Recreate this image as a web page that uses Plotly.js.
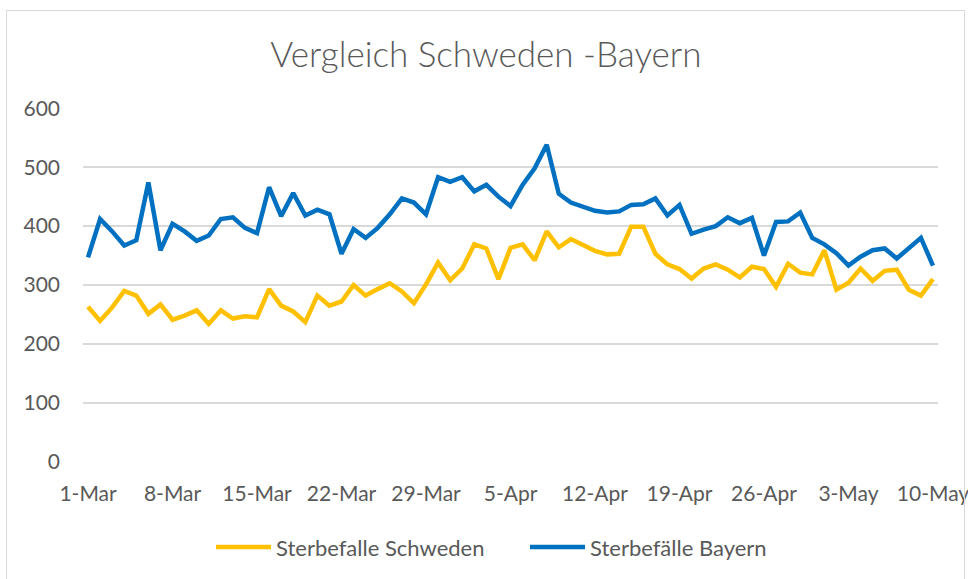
<!DOCTYPE html>
<html>
<head>
<meta charset="utf-8">
<script src="https://cdn.plot.ly/plotly-3.0.1.min.js"></script>
<style>
  html, body { margin: 0; padding: 0; background: #ffffff; }
  #wrap { position: relative; width: 968px; height: 579px; }
  #chart { position: absolute; left: 0; top: 0; width: 968px; height: 579px; }
  #frame { position: absolute; left: 6px; top: 10px; width: 959px; height: 580px;
           border: 1px solid #d9d9d9; pointer-events: none; box-sizing: border-box; }
</style>
</head>
<body>
<div id="wrap">
  <div id="chart"></div>
  <div id="frame"></div>
</div>
<script>
// Daily dates 1-Mar .. 10-May (2020)
const startDate = '2020-03-01';
const dayCount = 71;

const sterbefaelleSchweden = [
  263, 239, 262, 290, 282, 251, 267, 241, 248, 257,
  234, 257, 243, 247, 245, 293, 265, 255, 237, 282,
  265, 272, 300, 282, 293, 303, 289, 269, 301, 338,
  308, 328, 369, 362, 310, 363, 369, 342, 391, 364,
  378, 367, 358, 352, 353, 399, 399, 353, 335, 327,
  311, 328, 335, 326, 313, 331, 327, 297, 336, 321,
  318, 359, 292, 304, 328, 307, 324, 326, 292, 282,
  310
];

const sterbefaelleBayern = [
  347, 412, 391, 367, 376, 474, 359, 404, 391, 375,
  384, 412, 415, 397, 388, 466, 417, 456, 418, 428,
  420, 353, 395, 380, 397, 420, 447, 440, 420, 483,
  475, 483, 459, 470, 450, 434, 470, 498, 538, 455,
  440, 432, 426, 423, 425, 436, 437, 447, 418, 436,
  387, 394, 400, 415, 405, 414, 350, 407, 408, 423,
  380, 369, 354, 333, 348, 359, 362, 345, 363, 380,
  333
];

const seriesNames = ['Sterbefalle Schweden', 'Sterbefälle Bayern'];
const seriesColors = ['#FFC000', '#0070C0'];
const yTickVals = [0, 100, 200, 300, 400, 500, 600];

function buildDates(start, n) {
  const out = [];
  const d0 = new Date(start + 'T00:00:00Z');
  for (let i = 0; i < n; i++) {
    const d = new Date(d0.getTime() + i * 86400000);
    out.push(d.toISOString().slice(0, 10));
  }
  return out;
}
const dates = buildDates(startDate, dayCount);

const font = 'Lato, "Open Sans", "Liberation Sans", sans-serif';
const grey = '#595959';

const traces = [
  { x: dates, y: sterbefaelleSchweden, name: seriesNames[0], type: 'scatter', mode: 'lines',
    line: { color: seriesColors[0], width: 4.5 } },
  { x: dates, y: sterbefaelleBayern, name: seriesNames[1], type: 'scatter', mode: 'lines',
    line: { color: seriesColors[1], width: 4.5 } }
];

const layout = {
  width: 968, height: 579,
  margin: { l: 83, r: 30, t: 108, b: 116 },
  paper_bgcolor: '#ffffff', plot_bgcolor: '#ffffff',
  font: { family: font, color: grey, size: 20 },
  title: { text: 'Vergleich Schweden -Bayern', font: { family: font, size: 35, color: grey, weight: 300 },
           x: 0.502, xanchor: 'center', y: 0.906, yanchor: 'middle' },
  xaxis: {
    type: 'date',
    range: ['2020-02-29 14:00', '2020-05-10 10:00'],
    tick0: '2020-03-01', dtick: 7 * 86400000,
    tickformat: '%-d-%b',
    showgrid: false, zeroline: false, showline: false,
    ticks: '', ticklabelstandoff: 17, ticklabeloverflow: 'allow',
    tickfont: { family: font, size: 21, color: grey },
    fixedrange: true
  },
  yaxis: {
    range: [-0.5, 600.5],
    tickvals: yTickVals,
    showgrid: true, gridcolor: '#d9d9d9', gridwidth: 1.5,
    zeroline: false, showline: false,
    ticks: '', ticklabelstandoff: 22,
    tickfont: { family: font, size: 21, color: grey },
    fixedrange: true
  },
  showlegend: true,
  legend: {
    orientation: 'h', x: 0.1497, xanchor: 'left', y: -0.237, yanchor: 'middle',
    font: { family: font, size: 22, color: grey },
    itemwidth: 55, entrywidth: 244, entrywidthmode: 'pixels', bgcolor: 'rgba(0,0,0,0)'
  }
};

Plotly.newPlot('chart', traces, layout, { displayModeBar: false, staticPlot: true });
</script>
</body>
</html>
